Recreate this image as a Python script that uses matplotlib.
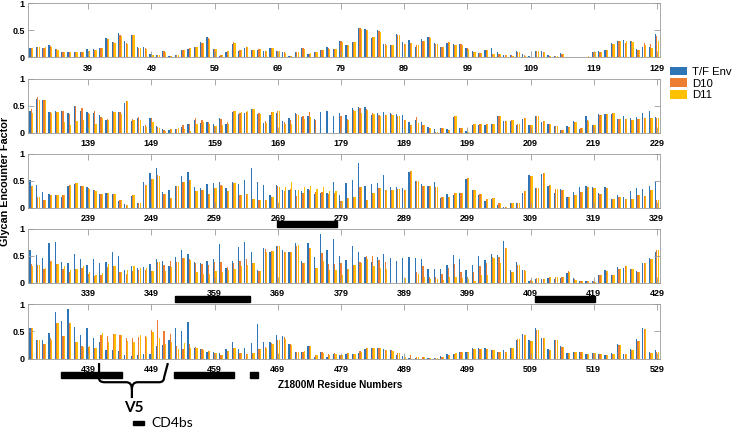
import numpy as np
import matplotlib
matplotlib.use('Agg')
import matplotlib.pyplot as plt
from matplotlib.patches import Rectangle, Patch, PathPatch
from matplotlib.path import Path
import matplotlib.transforms as mtransforms

# residue numbers 30..529, five rows of 100
residues = np.arange(30, 530)

tf_env = [
    .17,.20,.17,.22,.15,.10,.10,.10,.09,.15, .15,.17,.35,.28,.45,.30,.41,.19,.19,.07,
    .05,.11,.03,.05,.13,.16,.19,.28,.37,.16, .03,.10,.25,.12,.18,.14,.14,.12,.18,.12,
    .10,.03,.10,.17,.07,.09,.14,.19,.16,.30, .23,.28,.54,.53,.35,.50,.24,.22,.44,.28,
    .32,.19,.33,.38,.26,.20,.27,.24,.24,.17, .12,.08,.14,.17,.10,.04,.04,.11,.06,.02,
    .11,.11,.04,.02,.08,0,0,0,0,.10,         .12,.14,.27,.31,.32,.31,.16,.20,.20,.43,
    .40,.62,.60,.38,.40,.41,.37,.50,.40,.38, .37,.33,.24,.40,.39,.55,.22,.28,.13,.27,
    .12,.06,.05,.07,.10,.17,.23,.18,.19,.16, .28,.16,.38,.35,.37,.43,.35,.18,.33,.37,
    .21,.27,.36,.29,.31,.26,.38,.41,.31,.37, .33,.45,.48,.47,.32,.37,.38,.37,.35,.33,
    .20,.24,.20,.10,.06,.08,.06,.29,.09,.03, .14,.15,.15,.17,.31,.21,.22,.15,.26,.15,
    .31,.20,.17,.12,.05,.12,.22,.07,.30,.14, .34,.35,.35,.26,.31,.28,.29,.37,.40,.29,
    .52,.42,.29,.25,.23,.20,.40,.43,.41,.38, .32,.25,.27,.26,.12,.07,.21,.09,.47,.64,
    .73,.29,.33,.41,.58,.66,.39,.36,.43,.45, .48,.36,.48,.43,.51,.73,.47,.42,.23,.42,
    .32,.33,.32,.31,.35,.25,.27,.28,.48,.24, .46,.51,.83,.40,.44,.46,.60,.38,.38,.37,
    .67,.50,.44,.41,.47,.18,.25,.24,.28,.53, .33,.24,.13,.17,.05,.01,.08,.09,.27,.61,
    .37,.63,.40,.27,.35,.19,.29,.39,.41,.38, .27,.39,.16,.24,.19,.31,.36,.35,.41,.48,
    .60,.51,.45,.74,.76,.39,.36,.54,.44,.32, .44,.36,.39,.57,.50,.24,.30,.28,.29,.34,
    .43,.41,.30,.47,.61,.54,.38,.37,.40,.43, .72,.28,.40,.66,.76,.56,.23,.64,.56,.68,
    .61,.57,.73,.41,.74,.48,.90,.60,.80,.50, .42,.68,.57,.47,.38,.48,.53,.45,.40,.45,
    .47,.46,.44,.26,.26,.26,.33,.52,.43,.24, .33,.50,.42,.53,.51,.78,.24,.38,.24,.04,
    .06,.07,.09,.07,.08,.18,.08,.04,.04,.03, .15,.23,.14,.29,.27,.25,.21,.36,.46,.57,
    .56,.34,.34,.47,.86,.69,.91,.58,.43,.56, .38,.31,.16,.16,.14,.07,.05,.06,.09,.09,
    .23,.25,.34,.56,.50,.67,.19,.17,.13,.12, .11,.18,.31,.18,.19,.29,.64,.30,.30,.44,
    .42,.26,.13,.13,.23,.03,.12,.04,.09,.07, .09,.09,.11,.18,.20,.20,.17,.15,.06,.05,
    .01,.02,0,.01,.01,.05,.08,.08,.13,.13,   .20,.19,.20,.15,.13,.15,.19,.35,.45,.34,
    .57,.37,.17,.34,.23,.10,.12,.13,.09,.11, .09,.07,.10,.27,.09,.17,.36,.57,.12,.15,
]

d10 = [
    .17,.20,.18,.21,.15,.10,.10,.10,.09,.12, .13,.17,.34,.28,.42,.26,.41,.18,.17,.06,
    .05,.11,.03,.05,.13,.17,.19,.26,.35,.16, .04,.12,.28,.14,.20,.14,.15,.12,.18,.12,
    .09,.03,.10,.17,.07,.10,.14,.17,.16,.30, .23,.28,.54,.51,.37,.48,.24,.22,.42,.24,
    .27,.22,.31,.37,.25,.20,.28,.23,.24,.17, .10,.08,.14,.07,.07,.04,.04,.10,.04,.01,
    .12,.10,.03,.02,.07,0,0,0,0,.10,         .10,.14,.25,.31,.27,.30,.14,.26,.24,.40,
    .43,.66,.60,.38,.39,.40,.34,.50,.45,.37, .41,.29,.25,.39,.38,.58,.26,.29,.14,.27,
    .10,.05,.06,.07,.14,.17,.28,.24,.19,.13, .26,.19,.41,.37,.38,.44,.37,.21,.39,.41,
    .20,.24,.34,.31,.38,.24,0,0,0,.31,       .26,.42,.45,.44,.36,.33,.33,.34,.30,.24,
    .14,.29,.15,.08,.02,.08,.05,.31,.08,.02, .17,.17,.16,.17,.31,.22,.23,.17,.27,.14,
    .31,.21,.16,.12,.05,.11,.20,.08,.23,.15, .33,.35,.36,.26,.26,.23,.25,.27,.28,.27,
    .40,.20,.14,.24,.23,.24,.42,.45,.41,.36, .32,.25,.28,.26,.15,.05,.23,.09,.42,.54,
    .60,.25,.18,.40,.48,.52,.31,.33,.26,.36, .42,.30,.46,.24,.25,.16,.14,.15,.20,.41,
    .30,.35,.22,.27,.33,.29,.29,.26,.27,.12, .18,.20,.38,.14,.27,.36,.33,.33,.34,.32,
    .68,.50,.41,.41,.38,.19,.20,.28,.28,.55, .33,.26,.17,.18,.09,.02,.08,.09,.30,.59,
    .37,.64,.42,.34,.33,.19,.24,.29,.38,.37, .25,.36,.16,.20,.16,.17,.23,.22,.33,.15,
    .35,.32,.25,.40,.35,.25,.20,.26,.27,.16, .12,.14,.29,.31,.19,.16,.22,.23,.24,.22,
    .38,.33,.40,.38,.46,.44,.36,.34,.33,.39, .39,.29,.37,.40,.43,.37,.21,.62,.58,.68,
    .56,.56,.68,.37,.65,.28,.55,.34,.34,.37, .26,.33,.38,.50,.50,.42,.38,0,0,0,
    0,.20,.30,.10,.11,.16,.27,.35,.19,.11,   .20,.31,.36,.47,.48,.65,.20,.33,.23,.05,
    .09,.07,.10,.10,.10,.21,.06,.04,.04,.03, .15,.21,.15,.25,.30,.25,.19,.36,.44,.60,
    .56,.35,.27,.37,.66,.41,.66,.31,.23,.21, .20,.43,.41,.45,.44,.37,.37,.40,.42,.52,
    .71,.51,.45,.23,.18,.27,.21,.17,.14,.11, .06,.14,.19,.10,.09,.10,.18,.21,.28,.34,
    .39,.26,.13,.13,.23,.07,.12,.08,.10,.07, .10,.09,.14,.20,.20,.19,.16,.15,.11,.03,
    .07,.03,.03,.01,.01,.04,.07,.09,.12,.13, .18,.18,.18,.15,.13,.13,.19,.36,.44,.32,
    .53,.37,.16,.34,.22,.10,.12,.12,.09,.10, .08,.07,.09,.25,.09,.16,.32,.54,.10,.13,
]

d11 = [
    .17,.19,.19,.20,.14,.10,.10,.10,.09,.12, .14,.17,.33,.27,.39,.25,.41,.18,.16,.05,
    .05,.10,.03,.05,.13,.17,.19,.26,.34,.16, .04,.12,.27,.14,.20,.14,.15,.12,.17,.11,
    .08,.03,.10,.16,.08,.10,.14,.16,.16,.29, .23,.28,.53,.50,.37,.47,.23,.22,.41,.24,
    .26,.22,.30,.35,.25,.20,.28,.23,.23,.16, .10,.08,.14,.07,.06,.04,.03,.10,.03,0,
    .12,.10,.03,.02,.07,0,0,0,.02,.10,       .10,.14,.25,.30,.30,.29,.14,.23,.17,.31,
    .37,.60,.60,.36,.39,.20,.14,.21,.23,.35, .17,.27,.24,.38,.35,.58,.24,.23,.10,.20,
    .08,.03,.06,.08,.07,.03,.17,.19,.16,.13, .15,.17,.41,.38,.40,.43,.35,.18,.39,.41,
    .17,.17,.33,.25,.29,0,0,0,0,0,           .24,.40,.37,.42,.35,.31,.32,.32,.30,.24,
    .14,.18,.15,.08,.02,.08,.05,.31,.08,.02, .17,.17,.16,.17,.30,.22,.23,.17,.27,.14,
    .31,.21,.16,.12,.05,.11,.20,.08,.21,.15, .33,.35,.36,.26,.26,.23,.25,.27,.28,.27,
    .40,.20,.14,.24,.23,.24,.42,.45,.40,.35, .31,.25,.27,.26,.15,.05,.23,.09,.42,.54,
    .59,.25,.18,.40,.48,.52,.31,.33,.26,.36, .41,.30,.46,.24,.25,.17,.15,.15,.20,.38,
    .38,.47,.33,.38,.40,.35,.39,.30,.31,.12, .18,.20,.38,.14,.27,.36,.33,.33,.34,.32,
    .68,.50,.41,.41,.38,.19,.20,.28,.28,.55, .33,.26,.17,.18,.09,.02,.08,.09,.30,.59,
    .37,.64,.42,.34,.33,.19,.24,.29,.38,.37, .25,.36,.16,.20,.16,.17,.23,.22,.33,.15,
    .30,.32,.27,.40,.35,.30,.23,.26,.30,.20, .15,.18,.34,.31,.19,.24,.30,.28,.28,.21,
    .38,.22,.29,.39,.46,.42,.19,.16,.17,.22, .19,.23,.25,.31,.33,.37,.21,.57,.58,.68,
    .56,.56,.70,.37,.65,.28,.40,.24,.24,.15, .26,.33,.36,.43,.30,.28,.25,0,0,.08,
    0,.16,.11,.06,.06,.05,.10,.10,.08,.06,   .03,.15,.15,.45,.37,.65,.20,.32,.22,.04,
    .09,.07,.10,.10,.10,.19,.05,.03,.04,.02, .15,.21,.15,.26,.30,.25,.19,.36,.44,.60,
    .56,.35,.27,.34,.66,.41,.66,.31,.22,.23, .20,.47,.31,.45,.44,.32,.31,.43,.40,.48,
    .38,.26,.30,.17,.28,.20,.20,.16,.14,.11, .07,.14,.19,.10,.09,.10,.17,.20,.27,.34,
    .36,.25,.13,.14,.23,.06,.11,.06,.09,.07, .10,.08,.13,.20,.20,.19,.16,.14,.10,.03,
    0,.03,.03,.01,.01,.04,.07,.10,.12,.13,   .18,.18,.17,.15,.13,.13,.19,.36,.44,.32,
    .53,.37,.16,.34,.22,.10,.12,.12,.09,.10, .08,.07,.09,.25,.09,.16,.32,.54,.10,.13,
]

series_names = ['T/F Env', 'D10', 'D11']
colors = ['#2E75B6', '#ED7D31', '#FFC000']

# structural regions drawn as black bars under the rows (residue spans)
regions = [(268.8, 278.3), (352.8, 364.6), (409.7, 419.2),
           (434.7, 444.3), (452.5, 462.0), (464.6, 465.9)]
row_starts = [30, 130, 230, 330, 430]

W, H = 732, 430
fig = plt.figure(figsize=(W / 100, H / 100), dpi=100)


def px(x, y):
    return x / W, 1 - y / H


tick_font = dict(family='Liberation Sans', weight='bold', size=6.5)
axes_color = '#9a9a9a'
panel_tops = [3.3, 78.7, 153.7, 228.7, 304.0]
panel_bots = [57.3, 132.7, 207.7, 282.7, 358.7]
left_px, right_px = 28.3, 660.0

vals = np.array([tf_env, d10, d11])
axes = []
for k, start in enumerate(row_starts):
    l, b = px(left_px, panel_bots[k])
    ax = fig.add_axes([l, b, (right_px - left_px) / W, (panel_bots[k] - panel_tops[k]) / H])
    sel = (residues >= start) & (residues < start + 100)
    r = residues[sel]
    for j in range(3):
        ax.bar(r + (j - 1) * 0.22, vals[j][sel], width=0.2, color=colors[j], linewidth=0)
    ax.set_xlim(start - 0.5, start + 99.5)
    ax.set_ylim(0, 1)
    ax.set_xticks(np.arange(start + 9, start + 100, 10))
    ax.set_yticks([0, 0.5, 1])
    ax.set_yticklabels(['0', '0.5', '1'])
    ax.tick_params(direction='in', top=True, right=True, length=4, width=0.6,
                   color=axes_color)
    ax.tick_params(axis='x', pad=4.5)
    ax.tick_params(axis='y', pad=2.4)
    for lab in ax.get_xticklabels() + ax.get_yticklabels():
        lab.set_fontproperties(tick_font)
    for sp in ax.spines.values():
        sp.set_color(axes_color)
        sp.set_linewidth(0.6)
    axes.append(ax)

# black region bars under the axes
for a, e in regions:
    k = max(i for i, s in enumerate(row_starts) if s - 0.5 <= a)
    ax = axes[k]
    trans = mtransforms.blended_transform_factory(ax.transData, ax.transAxes)
    ax.add_patch(Rectangle((a, -0.35), e - a, 0.105, transform=trans,
                           color='black', clip_on=False))

# V5 brace under the last row
ax = axes[4]
trans = mtransforms.blended_transform_factory(ax.transData, ax.transAxes)
L, M, R = 440.7, 445.9, 451.0
left_arm = Path([(L, -0.08), (L, -0.36), (L, -0.43), (L + 0.9, -0.43),
                 (M - 0.9, -0.43), (M, -0.43), (M, -0.56), (M, -0.72)],
                [Path.MOVETO, Path.LINETO, Path.CURVE3, Path.CURVE3,
                 Path.LINETO, Path.CURVE3, Path.CURVE3, Path.LINETO])
right_arm = Path([(M, -0.56), (M, -0.43), (M + 0.9, -0.43), (R - 0.8, -0.43),
                  (R, -0.43), (R, -0.34), (R + 0.6, -0.08)],
                 [Path.MOVETO, Path.CURVE3, Path.CURVE3, Path.LINETO,
                  Path.CURVE3, Path.CURVE3, Path.LINETO])
for p in (left_arm, right_arm):
    ax.add_patch(PathPatch(p, transform=trans, fill=False, lw=1.6,
                           edgecolor='black', clip_on=False, capstyle='butt'))

fig.text(*px(134, 408), 'V5', family='Lato', weight='bold', size=11,
         ha='center', va='center')
x0, y0 = px(132.7, 425.3)
fig.add_artist(Rectangle((x0, y0), 11.6 / W, 4.6 / H, transform=fig.transFigure,
                         color='black'))
fig.text(*px(151.7, 423), 'CD4bs', family='Lato', size=10, ha='left', va='center')

fig.text(*px(277.7, 385), 'Z1800M Residue Numbers', family='Liberation Sans',
         weight='bold', size=7.2, ha='left', va='center')
fig.text(*px(4.8, 181), 'Glycan Encounter Factor', family='Liberation Sans',
         weight='bold', size=7.8, rotation=90, ha='center', va='center')

handles = [Patch(facecolor=c, edgecolor='none') for c in colors]
fig.legend(handles, series_names, loc='upper left', bbox_to_anchor=px(670, 66.5),
           frameon=False, borderpad=0, borderaxespad=0, handlelength=1.5,
           handleheight=0.82, handletextpad=0.4, labelspacing=0.12,
           prop=dict(family='Liberation Sans', size=8.2))

fig.savefig('out.png', dpi=100)
